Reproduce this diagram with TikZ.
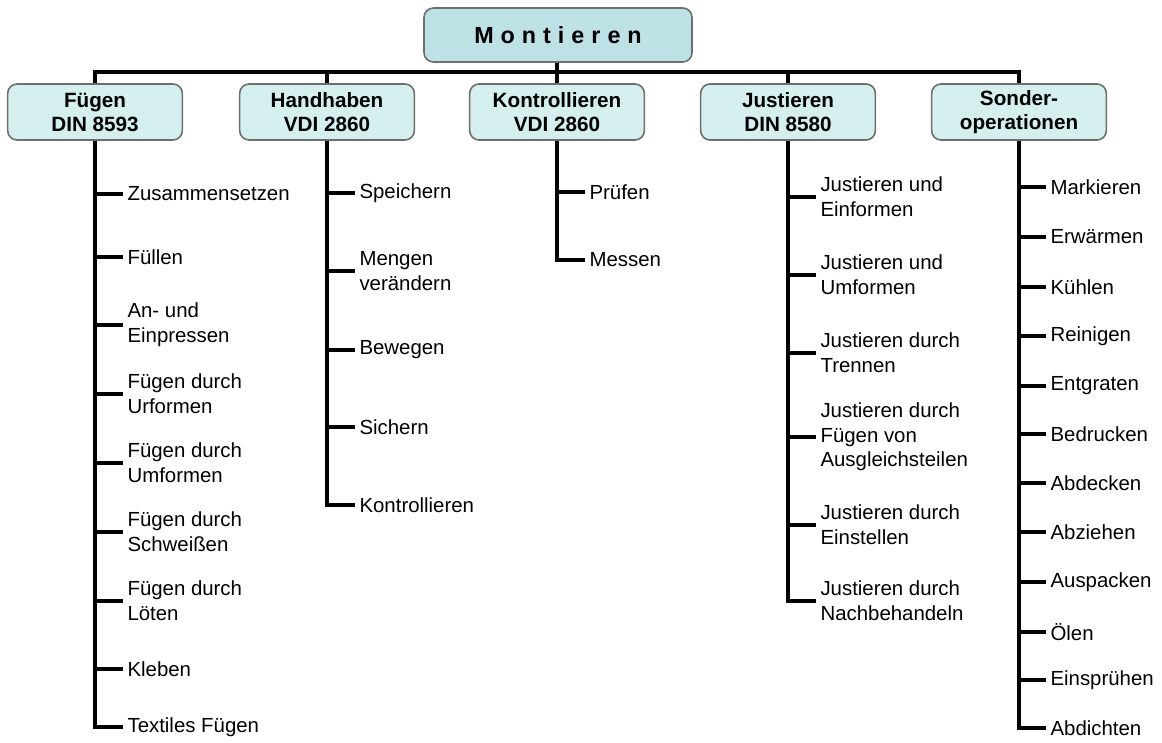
\documentclass[tikz,border=0pt]{standalone}
\usepackage{fontspec}
\setmainfont{Liberation Sans}
\usetikzlibrary{positioning, calc}
\definecolor{ctop}{HTML}{BEE1E5}
\definecolor{cbox}{HTML}{D5EEEE}
\definecolor{cedge}{HTML}{6E6E6E}
\tikzset{
  every picture/.style={line width=2.8pt},
  head/.style={draw=cedge, fill=#1, line width=1.2pt, rounded corners=7pt, align=center,
    font=\fontsize{15.5}{18}\selectfont\bfseries, minimum width=131pt, minimum height=42pt, inner sep=2pt},
  head/.default=cbox,
  item/.style={anchor=west, align=left, inner sep=2pt, font=\fontsize{15.3}{18.5}\selectfont},
  link/.style={draw=black, line width=2.8pt, line join=miter},
}

\begin{document}
\begin{tikzpicture}[x=0.75pt, y=-0.75pt]
  \useasboundingbox (0,0) rectangle (1162,742);
  \node[head=ctop, minimum width=201pt, minimum height=40.5pt, font=\fontsize{17.5}{20}\selectfont\bfseries\addfontfeature{LetterSpace=30}] (montieren) at (558,35) {Montieren};
  \node[head] (fuegen) at (95,112) {Fügen\\DIN 8593};
  \node[head] (handhaben) at (327,112) {Handhaben\\VDI 2860};
  \node[head] (kontrollieren) at (557,112) {Kontrollieren\\VDI 2860};
  \node[head] (justieren) at (788,112) {Justieren\\DIN 8580};
  \node[head] (sonder) at (1019,112) {Sonder-\\operationen};
  \coordinate (bus) at (0,72);
  \draw[link] (montieren.south -| 557,0) -- (bus -| 557,0);
  \draw[link] (fuegen.north) -- (fuegen.north |- bus) -| (sonder.north);
  \foreach \b in {handhaben, kontrollieren, justieren}
    \draw[link] (\b.north) -- (\b.north |- bus);
  \foreach \y/\t [count=\i] in {194/Zusammensetzen, 257/Füllen, 325/An- und\\Einpressen,
      394/Fügen durch\\Urformen, 463/Fügen durch\\Umformen, 532/Fügen durch\\Schweißen,
      601/Fügen durch\\Löten, 669/Kleben, 727/Textiles Fügen} {
    \node[item] (f\i) at (123,\y) {\t};
    \draw[link] (fuegen.south |- f\i.west) -- (f\i.west);
  }
  \draw[link] (fuegen.south) |- (f9.west);
  \foreach \y/\t [count=\i] in {193/Speichern, 271/Mengen\\verändern, 350/Bewegen,
      427/Sichern, 505/Kontrollieren} {
    \node[item] (h\i) at (355,\y) {\t};
    \draw[link] (handhaben.south |- h\i.west) -- (h\i.west);
  }
  \draw[link] (handhaben.south) |- (h5.west);
  \foreach \y/\t [count=\i] in {192/Prüfen, 260/Messen} {
    \node[item] (k\i) at (585,\y) {\t};
    \draw[link] (kontrollieren.south |- k\i.west) -- (k\i.west);
  }
  \draw[link] (kontrollieren.south) |- (k2.west);
  \foreach \y/\t [count=\i] in {197/Justieren und\\Einformen, 275/Justieren und\\Umformen,
      353/Justieren durch\\Trennen, 437/Justieren durch\\Fügen von\\Ausgleichsteilen,
      525/Justieren durch\\Einstellen, 601/Justieren durch\\Nachbehandeln} {
    \node[item] (j\i) at (816,\y) {\t};
    \draw[link] (justieren.south |- j\i.west) -- (j\i.west);
  }
  \draw[link] (justieren.south) |- (j6.west);
  \foreach \y/\t [count=\i] in {187/Markieren, 237/Erwärmen, 287/Kühlen, 336/Reinigen,
      386/Entgraten, 434/Bedrucken, 483/Abdecken, 532/Abziehen, 582/Auspacken,
      632/Ölen, 680/Einsprühen, 728/Abdichten} {
    \node[item] (s\i) at (1046,\y) {\t};
    \draw[link] (sonder.south |- s\i.west) -- (s\i.west);
  }
  \draw[link] (sonder.south) |- (s12.west);
\end{tikzpicture}
\end{document}
